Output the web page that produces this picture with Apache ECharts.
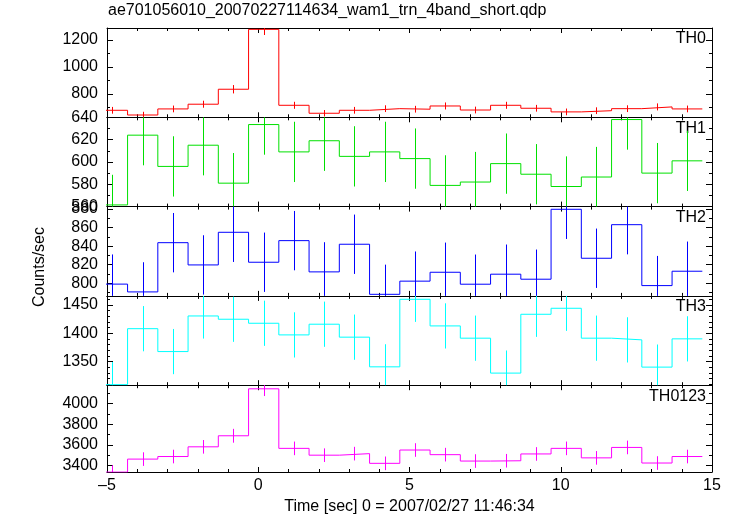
<!DOCTYPE html>
<html><head><meta charset="utf-8">
<script src="https://cdn.jsdelivr.net/npm/echarts@6/dist/echarts.min.js"></script>
<style>html,body{margin:0;padding:0;background:#fff}#c{width:733px;height:516px}</style>
</head><body><div id="c"></div>
<script>
// ---- data ----
const chartTitle = 'ae701056010_20070227114634_wam1_trn_4band_short.qdp';
const xTitle = 'Time [sec] 0 = 2007/02/27 11:46:34';
const yTitle = 'Counts/sec';
const panelNames = ['TH0', 'TH1', 'TH2', 'TH3', 'TH0123'];
const binCenters = [-4.82, -3.82, -2.82, -1.82, -0.82, 0.18, 1.18, 2.18, 3.18, 4.18,
                    5.18, 6.18, 7.18, 8.18, 9.18, 10.18, 11.18, 12.18, 13.18, 14.18];
const binHalfWidth = 0.5;
const th0 = [679, 644, 689, 724, 835, 1279, 716, 657, 679, 691, 687, 711, 681, 716, 694, 667, 676, 691, 704, 689];
const th0Err = [25, 24, 25, 26, 31, 42, 26, 24, 25, 25, 25, 26, 25, 26, 25, 25, 25, 25, 26, 25];
const th1 = [561.5, 624, 596, 615, 581, 633.5, 609, 619, 605, 609, 603, 579, 582, 598.5, 589, 578, 586.5, 638, 590, 601];
const th1Err = [27, 27, 27, 27, 27, 27, 27, 27, 27, 27, 27, 27, 27, 27, 27, 27, 27, 27, 27, 27];
const th2 = [799, 790.6, 843.7, 819.7, 854.9, 822.6, 845.9, 812.2, 842, 788, 802.2, 811.8, 798.9, 809.7, 804.3, 879.7, 826.9, 863.1, 797.4, 812.9];
const th2Err = [32, 32, 32, 32, 32, 32, 32, 32, 32, 32, 32, 32, 32, 32, 32, 32, 32, 32, 32, 32];
const th3 = [1309, 1408, 1367.5, 1430.5, 1424.7, 1417.6, 1397, 1415.9, 1393, 1340.5, 1460, 1412.9, 1391.2, 1329.4, 1433.5, 1444.1, 1391.2, 1388.2, 1340, 1390];
const th3Err = [40, 40, 40, 40, 40, 40, 40, 40, 40, 40, 40, 40, 40, 40, 40, 40, 40, 40, 40, 40];
const th0123 = [3337, 3463, 3488, 3582, 3689, 4144, 3567, 3501, 3516, 3422, 3551, 3506, 3444, 3447, 3513, 3567, 3475, 3576, 3425, 3488];
const th0123Err = [66, 66, 66, 66, 67, 70, 66, 66, 66, 66, 66, 66, 66, 66, 66, 66, 66, 66, 66, 66];
const xTickLabels = [-5, 0, 5, 10, 15];
const yMins = [627, 560, 786.3, 1308, 3338];
const yMaxs = [1289, 640, 882.6, 1466, 4179];
const yIntervals = [200, 20, 20, 50, 200];
const yMinorSplits = [2, 2, 2, 5, 2];

// ---- layout / style ----
const values = [th0, th1, th2, th3, th0123];
const errs = [th0Err, th1Err, th2Err, th3Err, th0123Err];
const colors = ['#ff0000', '#00e000', '#0000ff', '#00ffff', '#ff00ff'];
const FONT = "'Liberation Sans', Arial, sans-serif";
const FS = 16;
const gridLeft = 107, gridRight = 733 - 712, gridTop = 28, panelH = 89.3;

const grids = [], xAxes = [], yAxes = [], series = [], graphics = [];
const black = {color: '#000', width: 1};
for (let i = 0; i < 5; i++) {
  const top = gridTop + i * panelH;
  grids.push({left: gridLeft, right: gridRight, top: top, height: panelH, show: false});
  const last = i === 4;
  const xBase = {
    type: 'value', gridIndex: i, min: xTickLabels[0], max: xTickLabels[xTickLabels.length - 1], interval: 5,
    axisLine: {show: true, onZero: false, lineStyle: black},
    axisTick: {show: true, inside: true, length: 5, lineStyle: black},
    minorTick: {show: true, splitNumber: 5, length: 3, lineStyle: black},
    splitLine: {show: false}
  };
  xAxes.push(Object.assign({}, xBase, {
    position: 'bottom',
    axisLabel: {show: last, margin: 6, color: '#000', fontFamily: FONT, fontSize: FS,
      formatter: v => String(v).replace('-', '\u2013')},
    name: last ? xTitle : '', nameLocation: 'middle', nameGap: 27,
    nameTextStyle: {color: '#000', fontFamily: FONT, fontSize: FS}
  }));
  xAxes.push(Object.assign({}, xBase, {position: 'top', axisLabel: {show: false}}));
  const iv = yIntervals[i];
  const yBase = {
    type: 'value', gridIndex: i, min: yMins[i], max: yMaxs[i], minInterval: iv, maxInterval: iv,
    axisLine: {show: true, onZero: false, lineStyle: black},
    axisTick: {show: true, inside: true, length: 6, lineStyle: black},
    minorTick: {show: true, splitNumber: yMinorSplits[i], length: 3, lineStyle: black},
    splitLine: {show: false}
  };
  yAxes.push(Object.assign({}, yBase, {
    position: 'left',
    axisLabel: {show: true, margin: 9, color: '#000', fontFamily: FONT, fontSize: FS,
      showMinLabel: true, showMaxLabel: true,
      formatter: v => (Math.abs(v / iv - Math.round(v / iv)) < 1e-6 ? String(Math.round(v)) : '')}
  }));
  yAxes.push(Object.assign({}, yBase, {position: 'right', axisLabel: {show: false}}));

  const vals = values[i], er = errs[i], col = colors[i];
  const stepData = [];
  binCenters.forEach((c, k) => {
    stepData.push([c - binHalfWidth, vals[k]]);
    stepData.push([c + binHalfWidth, vals[k]]);
  });
  series.push({
    type: 'line', xAxisIndex: 2 * i, yAxisIndex: 2 * i, data: stepData,
    symbol: 'none', clip: true, silent: true,
    lineStyle: {color: col, width: 1}
  });
  series.push({
    type: 'custom', xAxisIndex: 2 * i, yAxisIndex: 2 * i, silent: true,
    data: binCenters.map((c, k) => [c, vals[k] - er[k], vals[k] + er[k]]),
    renderItem: (params, api) => {
      const cs = params.coordSys;
      const p1 = api.coord([api.value(0), api.value(1)]);
      const p2 = api.coord([api.value(0), api.value(2)]);
      const clampY = y => Math.max(cs.y, Math.min(cs.y + cs.height, y));
      const x = Math.round(p1[0]) + 0.5;
      return {type: 'line', shape: {x1: x, y1: clampY(p1[1]), x2: x, y2: clampY(p2[1])},
        style: {stroke: col, lineWidth: 1}};
    }
  });
  graphics.push({type: 'text', right: 27, top: top + 3,
    style: {text: panelNames[i], fill: '#000', font: FS + 'px ' + FONT}});
}
graphics.push({type: 'text', left: 108, top: 3, style: {text: chartTitle, fill: '#000', font: FS + 'px ' + FONT}});
graphics.push({type: 'text', x: 40, y: 267, rotation: Math.PI / 2,
  style: {text: yTitle, fill: '#000', font: FS + 'px ' + FONT, textAlign: 'center', textVerticalAlign: 'middle'}});

const chart = echarts.init(document.getElementById('c'), null, {renderer: 'canvas'});
chart.setOption({
  animation: false, backgroundColor: '#fff',
  grid: grids, xAxis: xAxes, yAxis: yAxes, series: series, graphic: graphics
});
</script></body></html>
